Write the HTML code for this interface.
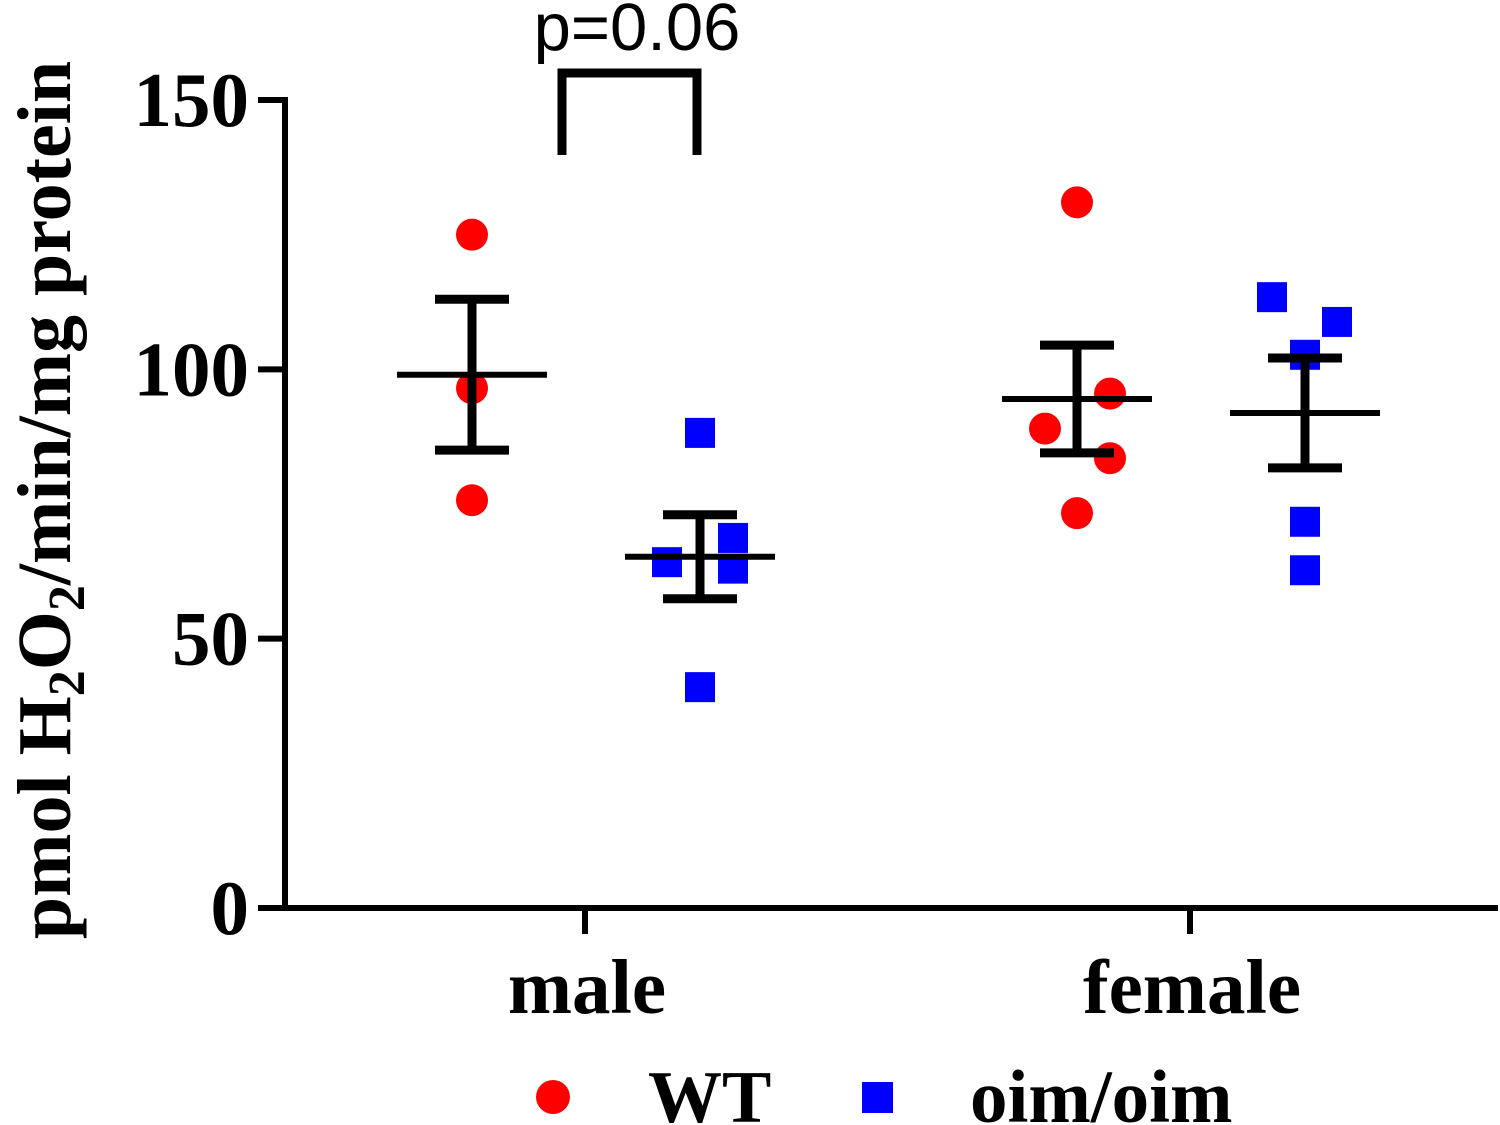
<!DOCTYPE html>
<html><head><meta charset="utf-8"><style>
html,body{margin:0;padding:0;background:#fff;}
svg{display:block;}
.t{font-family:"Liberation Serif",serif;font-weight:bold;}
</style></head><body>
<svg id="chart" width="1500" height="1125" viewBox="0 0 1500 1125">
<g id="axes"></g><g id="marks"></g>
</svg>
<script>
const categories = ["male","female"];
const groups = ["WT","oim/oim"];
const maleWT = [125,96.5,75.7];
const maleOim = [88.2,64.2,68.7,63,41];
const femaleWT = [131,95.5,89,83.5,73.3];
const femaleOim = [113.4,108.8,102.7,71.7,62.7];
const means = [99,65.2,94.5,91.9];
const sems = [14,7.8,10,10.2];
const yTicks = [0,50,100,150];

const NS="http://www.w3.org/2000/svg";
const y0=908, yTop=100, yMax=150;
function Y(v){return y0-(v/yMax)*(y0-yTop);}
const catX=[585,1190];
const groupX=[472,700,1077,1305];
function mk(tag,attrs,parent){const e=document.createElementNS(NS,tag);for(const k in attrs)e.setAttribute(k,attrs[k]);parent.appendChild(e);return e;}
const axes=document.getElementById('axes'), marks=document.getElementById('marks');

let e=mk('line',{x1:285,y1:Y(yMax)-3,x2:285,y2:y0+3,stroke:'#000','stroke-width':6},axes);


e=mk('line',{x1:258,y1:y0,x2:1498,y2:y0,stroke:'#000','stroke-width':6},axes);


yTicks.forEach(v=>{
  let t=mk('line',{x1:258,y1:Y(v),x2:285,y2:Y(v),stroke:'#000','stroke-width':6},axes);
  
  
  let l=mk('text',{x:249,y:Y(v)+26,'text-anchor':'end','font-size':77,class:'t'},axes);
  l.textContent=v;
  
  
});
categories.forEach((c,i)=>{
  let t=mk('line',{x1:catX[i],y1:y0,x2:catX[i],y2:934,stroke:'#000','stroke-width':6},axes);
  
  
  let l=mk('text',{x:catX[i]+2,y:1013,'text-anchor':'middle','font-size':77,class:'t'},axes);
  l.textContent=c;
  
  
});
let yl=mk('text',{x:0,y:0,transform:'translate(70,500) rotate(-90)','text-anchor':'middle','font-size':76,class:'t'},axes);
yl.innerHTML='pmol H<tspan font-size="52" dy="14">2</tspan><tspan dy="-14">O</tspan><tspan font-size="52" dy="14">2</tspan><tspan dy="-14">/min/mg protein</tspan>';



const series=[[maleWT,'circle'],[maleOim,'square'],[femaleWT,'circle'],[femaleOim,'square']];
const jitter=[[0,0,0],[0,-33,33,33,0],[0,33,-32,33,0],[-33,32,0,0,0]];
series.forEach((s,gi)=>{
  s[0].forEach((v,j)=>{
    const x=groupX[gi]+jitter[gi][j];
    let p;
    if(s[1]==='circle'){p=mk('circle',{cx:x,cy:Y(v),r:16,fill:'#f00'},marks);}
    else{p=mk('rect',{x:x-15,y:Y(v)-15,width:30,height:30,fill:'#00f'},marks);}
    
  });
  const gx=groupX[gi], m=means[gi], s2=sems[gi];
  let ml=mk('line',{x1:gx-75,y1:Y(m),x2:gx+75,y2:Y(m),stroke:'#000','stroke-width':6},marks);
  
  
  let eb=mk('path',{d:`M${gx},${Y(m+s2)}V${Y(m-s2)}M${gx-37},${Y(m+s2)}H${gx+37}M${gx-37},${Y(m-s2)}H${gx+37}`,stroke:'#000','stroke-width':9,fill:'none'},marks);
  
  
});
let br=mk('path',{d:'M562,155V73H697V155',stroke:'#000','stroke-width':9,fill:'none'},marks);


let pv=mk('text',{x:637,y:50,'text-anchor':'middle','font-size':67,'font-family':'Liberation Sans, sans-serif'},marks);
pv.textContent='p=0.06';



let lg=mk('g',{},marks);


let c=mk('circle',{cx:553,cy:1097,r:17,fill:'#f00'},lg);


let t1=mk('text',{x:648,y:1122,'font-size':74,class:'t'},lg);t1.textContent=groups[0];


let r=mk('rect',{x:862,y:1082,width:31,height:31,fill:'#00f'},lg);


let t2=mk('text',{x:970,y:1122,'font-size':75,class:'t'},lg);t2.textContent=groups[1];


</script>
</body></html>
